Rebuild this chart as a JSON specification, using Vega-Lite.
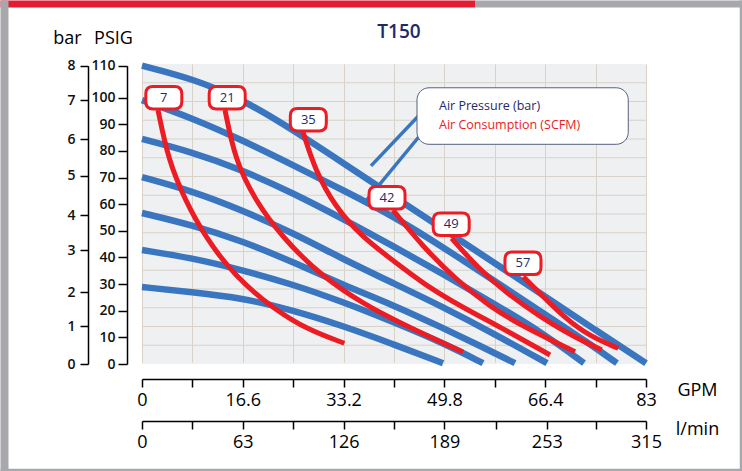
{
  "$schema": "https://vega.github.io/schema/vega-lite/v6.json",
  "autosize": {"type": "none"},
  "padding": {"left": 142, "top": 64, "right": 96, "bottom": 107},
  "width": 504,
  "height": 300,
  "background": "white",
  "config": {"view": {"fill": "#eff0f1", "stroke": null}, "font": "Open Sans"},
  "title": {"text": "T150", "anchor": "middle", "frame": "group", "fontSize": 19, "fontWeight": 600, "color": "#1e2a6a", "font": "Open Sans", "offset": 0, "dx": 5, "dy": 38},
  "datasets": {
    "grid": [{"row": 1}, {"row": 2}, {"row": 3}, {"row": 4}, {"row": 5}, {"row": 6}, {"row": 7}, {"row": 8}, {"row": 9}, {"row": 10}, {"row": 11}, {"row": 12}, {"row": 13}, {"row": 14}, {"row": 15}],
    "bars": [{"bar": 8}, {"bar": 7}, {"bar": 6}, {"bar": 5}, {"bar": 4}, {"bar": 3}, {"bar": 2}],
    "pressure": [
      {"bar": 8, "gpm": 0, "psi": 110}, {"bar": 8, "gpm": 8.23, "psi": 106.0}, {"bar": 8, "gpm": 16.47, "psi": 99.5}, {"bar": 8, "gpm": 24.87, "psi": 87.9}, {"bar": 8, "gpm": 33.1, "psi": 75.5}, {"bar": 8, "gpm": 41.33, "psi": 63.1}, {"bar": 8, "gpm": 49.57, "psi": 50.7}, {"bar": 8, "gpm": 57.8, "psi": 38.3}, {"bar": 8, "gpm": 66.04, "psi": 25.9}, {"bar": 8, "gpm": 74.44, "psi": 13.1}, {"bar": 8, "gpm": 83, "psi": 0.3},
      {"bar": 7, "gpm": 0, "psi": 99.1}, {"bar": 7, "gpm": 8.23, "psi": 92.4}, {"bar": 7, "gpm": 16.47, "psi": 84.1}, {"bar": 7, "gpm": 24.87, "psi": 74.7}, {"bar": 7, "gpm": 33.1, "psi": 65.3}, {"bar": 7, "gpm": 41.33, "psi": 55.6}, {"bar": 7, "gpm": 49.57, "psi": 43.9}, {"bar": 7, "gpm": 57.8, "psi": 31.5}, {"bar": 7, "gpm": 66.04, "psi": 19.2}, {"bar": 7, "gpm": 73.78, "psi": 7.5}, {"bar": 7, "gpm": 78.22, "psi": 0.3},
      {"bar": 6, "gpm": 0, "psi": 84.5}, {"bar": 6, "gpm": 8.23, "psi": 79.6}, {"bar": 6, "gpm": 16.47, "psi": 72.9}, {"bar": 6, "gpm": 24.87, "psi": 64.2}, {"bar": 6, "gpm": 33.1, "psi": 54.5}, {"bar": 6, "gpm": 41.33, "psi": 44.3}, {"bar": 6, "gpm": 49.57, "psi": 33.8}, {"bar": 6, "gpm": 57.8, "psi": 22.9}, {"bar": 6, "gpm": 66.04, "psi": 11.6}, {"bar": 6, "gpm": 72.79, "psi": 0.3},
      {"bar": 5, "gpm": 0, "psi": 70.2}, {"bar": 5, "gpm": 8.23, "psi": 65.0}, {"bar": 5, "gpm": 16.47, "psi": 57.8}, {"bar": 5, "gpm": 24.87, "psi": 49.2}, {"bar": 5, "gpm": 33.1, "psi": 39.4}, {"bar": 5, "gpm": 41.33, "psi": 30.4}, {"bar": 5, "gpm": 49.57, "psi": 21.4}, {"bar": 5, "gpm": 57.8, "psi": 11.6}, {"bar": 5, "gpm": 66.7, "psi": 0.3},
      {"bar": 4, "gpm": 0, "psi": 56.7}, {"bar": 4, "gpm": 8.23, "psi": 52.2}, {"bar": 4, "gpm": 16.47, "psi": 46.2}, {"bar": 4, "gpm": 24.87, "psi": 38.3}, {"bar": 4, "gpm": 33.1, "psi": 29.7}, {"bar": 4, "gpm": 41.33, "psi": 22.2}, {"bar": 4, "gpm": 49.57, "psi": 13.5}, {"bar": 4, "gpm": 55.66, "psi": 6.8}, {"bar": 4, "gpm": 61.43, "psi": 0.3},
      {"bar": 3, "gpm": 0, "psi": 42.8}, {"bar": 3, "gpm": 8.23, "psi": 39.8}, {"bar": 3, "gpm": 16.47, "psi": 35.3}, {"bar": 3, "gpm": 24.7, "psi": 30.0}, {"bar": 3, "gpm": 33.1, "psi": 23.3}, {"bar": 3, "gpm": 41.33, "psi": 15.8}, {"bar": 3, "gpm": 49.57, "psi": 7.9}, {"bar": 3, "gpm": 56.16, "psi": 0.3},
      {"bar": 2, "gpm": 0, "psi": 28.9}, {"bar": 2, "gpm": 8.23, "psi": 27.0}, {"bar": 2, "gpm": 16.47, "psi": 24.8}, {"bar": 2, "gpm": 24.7, "psi": 20.3}, {"bar": 2, "gpm": 33.1, "psi": 14.3}, {"bar": 2, "gpm": 41.33, "psi": 7.5}, {"bar": 2, "gpm": 49.57, "psi": 0.3}
    ],
    "consumption": [
      {"scfm": 7, "gpm": 2.63, "psi": 95.4}, {"scfm": 7, "gpm": 4.33, "psi": 76.6}, {"scfm": 7, "gpm": 7.08, "psi": 61.6}, {"scfm": 7, "gpm": 10.37, "psi": 47.8}, {"scfm": 7, "gpm": 15.32, "psi": 32.8}, {"scfm": 7, "gpm": 21.9, "psi": 20.3}, {"scfm": 7, "gpm": 27.39, "psi": 12.8}, {"scfm": 7, "gpm": 33.32, "psi": 7.8},
      {"scfm": 21, "gpm": 13.67, "psi": 95.4}, {"scfm": 21, "gpm": 15.32, "psi": 76.6}, {"scfm": 21, "gpm": 18.61, "psi": 61.6}, {"scfm": 21, "gpm": 23.01, "psi": 47.8}, {"scfm": 21, "gpm": 29.59, "psi": 32.8}, {"scfm": 21, "gpm": 37.27, "psi": 21.5}, {"scfm": 21, "gpm": 41.66, "psi": 16.5}, {"scfm": 21, "gpm": 47.43, "psi": 10.1}, {"scfm": 21, "gpm": 52.86, "psi": 4.5},
      {"scfm": 35, "gpm": 26.51, "psi": 87.1}, {"scfm": 35, "gpm": 28.49, "psi": 72.9}, {"scfm": 35, "gpm": 31.78, "psi": 59.1}, {"scfm": 35, "gpm": 36.18, "psi": 47.8}, {"scfm": 35, "gpm": 41.66, "psi": 38.3}, {"scfm": 35, "gpm": 46.6, "psi": 29.7}, {"scfm": 35, "gpm": 52.37, "psi": 21.8}, {"scfm": 35, "gpm": 58.96, "psi": 13.9}, {"scfm": 35, "gpm": 67.19, "psi": 3.4},
      {"scfm": 42, "gpm": 41.33, "psi": 57.8}, {"scfm": 42, "gpm": 46.27, "psi": 44.0}, {"scfm": 42, "gpm": 51.82, "psi": 31.5}, {"scfm": 42, "gpm": 57.31, "psi": 21.5}, {"scfm": 42, "gpm": 62.79, "psi": 14.0}, {"scfm": 42, "gpm": 71.31, "psi": 4.6},
      {"scfm": 49, "gpm": 51.0, "psi": 47.2}, {"scfm": 49, "gpm": 55.12, "psi": 36.5}, {"scfm": 49, "gpm": 60.06, "psi": 26.5}, {"scfm": 49, "gpm": 65.54, "psi": 17.8}, {"scfm": 49, "gpm": 71.03, "psi": 10.3}, {"scfm": 49, "gpm": 75.7, "psi": 5.3},
      {"scfm": 57, "gpm": 62.79, "psi": 32.8}, {"scfm": 57, "gpm": 65.54, "psi": 26.5}, {"scfm": 57, "gpm": 69.38, "psi": 17.8}, {"scfm": 57, "gpm": 73.78, "psi": 10.3}, {"scfm": 57, "gpm": 78.44, "psi": 5.9}
    ],
    "labels": [
      {"scfm": 7, "gpm": 3.59, "psi": 100.0}, {"scfm": 21, "gpm": 14.03, "psi": 99.97}, {"scfm": 35, "gpm": 27.39, "psi": 91.7},
      {"scfm": 42, "gpm": 40.35, "psi": 62.4}, {"scfm": 49, "gpm": 50.92, "psi": 52.5}, {"scfm": 57, "gpm": 62.74, "psi": 37.8}
    ],
    "leaders": [
      {"gpm": 37.71, "psi": 74.4, "gpm2": 46.93, "psi2": 96.5},
      {"gpm": 36.72, "psi": 60.8, "gpm2": 46.93, "psi2": 89.0}
    ],
    "legendbox": [{"gpm": 45.29, "psi": 103.1, "gpm2": 80.08, "psi2": 82.5}],
    "legend": [
      {"series": "pressure", "text": "Air Pressure (bar)", "gpm": 48.91, "psi": 96.9},
      {"series": "consumption", "text": "Air Consumption (SCFM)", "gpm": 48.91, "psi": 89.9}
    ]
  },
  "layer": [
    {
      "data": {"name": "bars"},
      "mark": {"type": "point", "opacity": 0},
      "encoding": {
        "x": {"datum": 0, "type": "quantitative", "scale": {"domain": [0, 1], "range": [-142, 333], "nice": false, "zero": false},
          "axis": {"orient": "top", "offset": 60.5, "domainColor": "#e21d32", "domainWidth": 7, "ticks": false, "labels": false, "grid": false, "title": null}},
        "y": {"datum": 0, "type": "quantitative", "scale": {"domain": [0, 1], "range": [407, -64], "nice": false, "zero": false},
          "axis": {"orient": "left", "offset": 138, "domainColor": "#a7a8ac", "domainWidth": 8, "ticks": false, "labels": false, "grid": false, "title": null}}
      }
    },
    {
      "data": {"name": "bars"},
      "mark": {"type": "point", "opacity": 0},
      "encoding": {
        "x": {"datum": 0, "type": "quantitative", "scale": {"domain": [0, 1], "range": [333, 600], "nice": false, "zero": false},
          "axis": {"orient": "top", "offset": 60.5, "domainColor": "#a7a8ac", "domainWidth": 7, "ticks": false, "labels": false, "grid": false, "title": null}},
        "y": {"datum": 0, "type": "quantitative", "scale": {"domain": [0, 1], "range": [407, -64], "nice": false, "zero": false},
          "axis": {"orient": "right", "offset": 94.5, "domainColor": "#a7a8ac", "domainWidth": 2.5, "ticks": false, "labels": false, "grid": false, "title": null}}
      }
    },
    {
      "data": {"name": "bars"},
      "mark": {"type": "point", "opacity": 0},
      "encoding": {
        "x": {"datum": 0, "type": "quantitative", "scale": {"domain": [0, 1], "range": [-142, 600], "nice": false, "zero": false},
          "axis": {"orient": "bottom", "offset": 105.5, "domainColor": "#a7a8ac", "domainWidth": 2.5, "ticks": false, "labels": false, "grid": false, "title": null}}
      }
    },
    {
      "data": {"name": "grid"},
      "mark": {"type": "rule", "color": "#d8d2c9", "strokeWidth": 1},
      "encoding": {"y": {"field": "row", "type": "quantitative", "scale": {"domain": [0, 16], "nice": false, "zero": false}, "axis": null}}
    },
    {
      "data": {"name": "bars"},
      "mark": {"type": "point", "opacity": 0},
      "encoding": {
        "y": {"field": "bar", "type": "quantitative",
          "scale": {"domain": [0, 1, 2, 3, 4, 5, 6, 7, 8], "range": [300, 262, 228, 186, 151, 111.7, 75.3, 36, 1.7], "nice": false, "zero": false},
          "axis": {"orient": "left", "offset": 54, "values": [0, 1, 2, 3, 4, 5, 6, 7, 8], "grid": false, "tickSize": 8, "tickColor": "#000", "domainColor": "#000", "domainWidth": 1.5, "tickWidth": 1.5,
            "labelFontSize": 14, "labelFontWeight": 600, "labelColor": "#111", "labelPadding": 5, "labelFont": "Open Sans", "labelFlush": false, "labelOverlap": false,
            "title": "bar", "titleAngle": 0, "titleX": -21, "titleY": -21, "titleAlign": "center", "titleBaseline": "alphabetic", "titleFontSize": 18, "titleFontWeight": "normal", "titleColor": "#000", "titleFont": "Open Sans"}},
        "x": {"datum": 0, "type": "quantitative",
          "scale": {"domain": [0, 315], "nice": false, "zero": false},
          "axis": {"orient": "bottom", "offset": 57, "values": [0, 31.5, 63, 94.5, 126, 157.5, 189, 221, 253, 284, 315],
            "labelExpr": "indexof([0, 63, 126, 189, 253, 315], datum.value) >= 0 ? '' + datum.value : ''",
            "grid": false, "tickSize": 8, "tickColor": "#000", "domainColor": "#000", "domainWidth": 1.5, "tickWidth": 1.5,
            "labelFontSize": 18, "labelColor": "#000", "labelPadding": 4, "labelFont": "Open Sans", "labelFlush": false, "labelOverlap": false,
            "title": "l/min", "titleX": 555, "titleY": 13, "titleAlign": "center", "titleBaseline": "alphabetic", "titleFontSize": 18, "titleFontWeight": "normal", "titleColor": "#000", "titleFont": "Open Sans"}}
      }
    },
    {
      "encoding": {
        "x": {"field": "gpm", "type": "quantitative",
          "scale": {"domain": [0, 83], "nice": false, "zero": false},
          "axis": {"orient": "bottom", "offset": 15, "values": [0, 8.3, 16.6, 24.9, 33.2, 41.5, 49.8, 58.1, 66.4, 74.7, 83],
            "labelExpr": "indexof([0, 16.6, 33.2, 49.8, 66.4, 83], datum.value) >= 0 ? '' + datum.value : ''",
            "grid": true, "gridColor": "#d8d2c9", "gridWidth": 1, "tickSize": 8, "tickColor": "#000", "domainColor": "#000", "domainWidth": 1.5, "tickWidth": 1.5,
            "labelFontSize": 18, "labelColor": "#000", "labelPadding": 4, "labelFont": "Open Sans", "labelFlush": false, "labelOverlap": false,
            "title": "GPM", "titleX": 555, "titleY": 16, "titleAlign": "center", "titleBaseline": "alphabetic", "titleFontSize": 18, "titleFontWeight": "normal", "titleColor": "#000", "titleFont": "Open Sans"}},
        "y": {"field": "psi", "type": "quantitative",
          "scale": {"domain": [0, 100, 110], "range": [300, 33.7, 1.7], "nice": false, "zero": false},
          "axis": {"orient": "left", "offset": 15, "values": [0, 10, 20, 30, 40, 50, 60, 70, 80, 90, 100, 110], "grid": false, "tickSize": 9, "tickColor": "#000", "domainColor": "#000", "domainWidth": 1.5, "tickWidth": 1.5,
            "labelFontSize": 14, "labelFontWeight": 600, "labelColor": "#111", "labelPadding": 3, "labelFont": "Open Sans", "labelFlush": false, "labelOverlap": false,
            "title": "PSIG", "titleAngle": 0, "titleX": -14, "titleY": -21, "titleAlign": "center", "titleBaseline": "alphabetic", "titleFontSize": 18, "titleFontWeight": "normal", "titleColor": "#000", "titleFont": "Open Sans"}}
      },
      "layer": [
        {
          "data": {"name": "pressure"},
          "mark": {"type": "line", "color": "#3a76bf", "strokeWidth": 6.5, "interpolate": "basis"},
          "encoding": {"detail": {"field": "bar", "type": "nominal"}}
        },
        {
          "data": {"name": "consumption"},
          "mark": {"type": "line", "color": "#ec1c24", "strokeWidth": 5, "interpolate": "basis"},
          "encoding": {"detail": {"field": "scfm", "type": "nominal"}}
        },
        {
          "data": {"name": "leaders"},
          "mark": {"type": "rule", "color": "#3a76bf", "strokeWidth": 3.5},
          "encoding": {"x2": {"field": "gpm2"}, "y2": {"field": "psi2"}}
        },
        {
          "data": {"name": "legendbox"},
          "mark": {"type": "rect", "fill": "white", "stroke": "#56607e", "strokeWidth": 1, "cornerRadius": 12},
          "encoding": {"x2": {"field": "gpm2"}, "y2": {"field": "psi2"}}
        },
        {
          "data": {"name": "legend"},
          "mark": {"type": "text", "align": "left", "baseline": "middle", "fontSize": 12.5, "font": "Open Sans"},
          "encoding": {
            "text": {"field": "text"},
            "color": {"field": "series", "type": "nominal", "scale": {"domain": ["pressure", "consumption"], "range": ["#1e2a6a", "#ec1c24"]}, "legend": null}
          }
        },
        {
          "data": {"name": "labels"},
          "mark": {"type": "point", "filled": false, "fill": "white", "fillOpacity": 1, "stroke": "#ec1c24", "strokeWidth": 3, "opacity": 1, "size": 1296,
            "shape": "M-0.6,-0.625L0.6,-0.625Q1,-0.625 1,-0.225L1,0.225Q1,0.625 0.6,0.625L-0.6,0.625Q-1,0.625 -1,0.225L-1,-0.225Q-1,-0.625 -0.6,-0.625Z"}
        },
        {
          "data": {"name": "labels"},
          "mark": {"type": "text", "align": "center", "baseline": "middle", "fontSize": 13, "color": "#1e2a6a", "font": "Open Sans"},
          "encoding": {"text": {"field": "scfm", "type": "nominal"}}
        }
      ]
    }
  ],
  "resolve": {"scale": {"x": "independent", "y": "independent"}}
}
